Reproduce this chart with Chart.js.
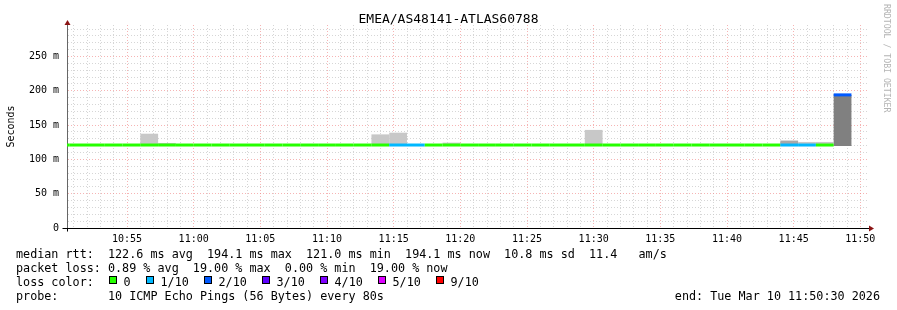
<!DOCTYPE html>
<html lang="en">
<head>
<meta charset="UTF-8" />
<title>EMEA/AS48141-ATLAS60788</title>
<script src="https://cdn.jsdelivr.net/npm/chart.js"></script>
<style>
  body { margin: 0; background: #fff; }
  #wrap { position: relative; width: 897px; height: 310px; font-family: "DejaVu Sans Mono", monospace; color: #000; }
  #plot { position: absolute; left: 0; top: 0; width: 897px; height: 310px; }
  .title { position: absolute; left: 0; top: 11px; width: 897px; text-align: center; font-size: 13px; line-height: 16px; }
  .mark { position: absolute; left: 882px; top: 4px; writing-mode: vertical-rl; font-size: 8.2px; color: #b4b4b4; }
  .foot { position: absolute; left: 16px; font-size: 11.75px; line-height: 14px; white-space: pre; }
  .end { position: absolute; right: 17px; font-size: 11.75px; line-height: 14px; white-space: pre; }
  .box { position: absolute; top: 276px; width: 6px; height: 6px; border: 1px solid #000; }
  .lbl { position: absolute; top: 275px; font-size: 11.75px; line-height: 14px; }
</style>
</head>
<body>
<div id="wrap">
  <div id="plot"><canvas id="chart"></canvas></div>
  <div class="title">EMEA/AS48141-ATLAS60788</div>
  <div class="mark">RRDTOOL / TOBI OETIKER</div>
  <div class="foot" style="top:247px">median rtt:  122.6 ms avg  194.1 ms max  121.0 ms min  194.1 ms now  10.8 ms sd  11.4   am/s</div>
  <div class="foot" style="top:261px">packet loss: 0.89 % avg  19.00 % max  0.00 % min  19.00 % now</div>
  <div class="foot" style="top:275px">loss color:</div>
  <div id="legend"></div>
  <div class="foot" style="top:289px">probe:       10 ICMP Echo Pings (56 Bytes) every 80s</div>
  <div class="end" style="top:289px">end: Tue Mar 10 11:50:30 2026</div>
</div>

<script>
  // 80 s steps, first bin starts 10:49:20 (x in minutes after 10:50:00)
  const stepMin = 80 / 60;
  const firstBinMin = -40 / 60;

  const medianMs = [
    121.0, 121.0, 121.0, 121.0, 121.0, 121.0, 121.0, 121.0, 121.0, 121.0,
    121.0, 121.0, 121.0, 121.0, 121.0, 121.0, 121.0, 121.0, 121.0, 121.0,
    121.0, 121.0, 121.0, 121.0, 121.0, 121.0, 121.0, 121.0, 121.0, 121.0,
    121.0, 121.0, 121.0, 121.0, 121.0, 121.0, 121.0, 121.0, 121.0, 121.0,
    121.0, 121.0, 121.0, 121.0, 194.1
  ];
  const lossCount = [
    0, 0, 0, 0, 0, 0, 0, 0, 0, 0,
    0, 0, 0, 0, 0, 0, 0, 0, 0, 1,
    1, 0, 0, 0, 0, 0, 0, 0, 0, 0,
    0, 0, 0, 0, 0, 0, 0, 0, 0, 0,
    0, 1, 1, 0, 2
  ];
  const pingMinMs = [
    120.4, 120.4, 120.4, 120.4, 120.4, 120.4, 120.4, 120.4, 120.4, 120.4,
    120.4, 120.4, 120.4, 120.4, 120.4, 120.4, 120.4, 120.4, 120.4, 120.4,
    120.4, 120.4, 120.4, 120.4, 120.4, 120.4, 120.4, 120.4, 120.4, 120.4,
    120.4, 120.4, 120.4, 120.4, 120.4, 120.4, 120.4, 120.4, 120.4, 120.4,
    120.4, 120.4, 120.4, 120.4, 119.6
  ];
  // upper edge of the smoke, by shade
  const smokeLight = [
    null, null, null, null, null, 137.5, 124.0, null, null, null,
    null, null, null, null, null, null, null, null, 136.5, 139.0,
    null, null, 124.5, null, null, null, null, null, null, null,
    143.0, null, null, null, null, null, null, null, null, null,
    null, null, 125.5, 125.5, null
  ];
  const smokeMid = [
    null, null, null, null, null, null, null, null, null, null,
    null, null, null, null, null, null, null, null, null, null,
    null, null, null, null, null, null, null, null, null, null,
    null, null, null, null, null, null, null, null, null, null,
    null, 127.5, null, null, null
  ];
  const smokeDark = [
    null, null, null, null, null, null, null, null, null, null,
    null, null, null, null, null, null, null, null, null, null,
    null, null, null, null, null, null, null, null, null, null,
    null, null, null, null, null, null, null, null, null, null,
    null, null, null, null, 194.1
  ];

  const xTickLabels = ['10:55', '11:00', '11:05', '11:10', '11:15', '11:20',
                       '11:25', '11:30', '11:35', '11:40', '11:45', '11:50'];
  const yTickLabels = ['0', '50 m', '100 m', '150 m', '200 m', '250 m'];

  const lossColors = { 0: '#26ff00', 1: '#00b8ff', 2: '#0059ff', 3: '#5e00ff', 4: '#7e00ff', 5: '#dd00ff', 9: '#ff0000' };
  const lossLegend = [[0, '0'], [1, '1/10'], [2, '2/10'], [3, '3/10'], [4, '4/10'], [5, '5/10'], [9, '9/10']];

  const legendLeft = [109, 146, 204, 262, 320, 378, 436];
  const legend = document.getElementById('legend');
  lossLegend.forEach(([n, txt], i) => {
    legend.insertAdjacentHTML('beforeend',
      '<div class="box" style="left:' + legendLeft[i] + 'px;background:' + lossColors[n] + '"></div>' +
      '<div class="lbl" style="left:' + (legendLeft[i] + 14.5) + 'px">' + txt + '</div>');
  });

  const binStart = i => firstBinMin + i * stepMin;
  const smoke = tops => tops.map((t, i) => ({ x: binStart(i) + stepMin / 2, y: t == null ? null : [pingMinMs[i], t] }));

  const medianPts = [];
  medianMs.forEach((v, i) => {
    medianPts.push({ x: binStart(i), y: v }, { x: binStart(i + 1), y: v });
  });

  const minuteTicks = [];
  for (let m = 1; m <= 60; m++) minuteTicks.push(m);
  const msTicks = [];
  for (let v = 0; v <= 290; v += 10) msTicks.push(v);

  const minorGrid = 'rgba(200,200,200,0.75)';
  const majorGrid = 'rgba(240,130,130,0.6)';
  const mono = "'DejaVu Sans Mono', monospace";

  const arrows = {
    id: 'arrows',
    afterDraw(chart) {
      const { ctx, chartArea: a } = chart;
      const x0 = Math.round(a.left) + 0.5, y0 = Math.round(a.bottom) + 0.5;
      ctx.save();
      ctx.strokeStyle = '#000';
      ctx.lineWidth = 1;
      ctx.beginPath();
      ctx.moveTo(x0 - 5, y0); ctx.lineTo(a.right + 3, y0);
      ctx.moveTo(x0, y0); ctx.lineTo(x0, y0 + 3);
      ctx.stroke();
      ctx.fillStyle = '#8b1414';
      ctx.beginPath();
      ctx.moveTo(x0 - 3, a.top); ctx.lineTo(x0 + 3, a.top); ctx.lineTo(x0, a.top - 5);
      ctx.closePath(); ctx.fill();
      ctx.beginPath();
      ctx.moveTo(a.right + 2, y0 - 3); ctx.lineTo(a.right + 2, y0 + 3); ctx.lineTo(a.right + 7, y0);
      ctx.closePath(); ctx.fill();
      ctx.restore();
    }
  };

  // bar ruler follows the 1-minute grid ticks, so widen each bar to one 80 s step
  const barOpts = { type: 'bar', grouped: false, barPercentage: stepMin, categoryPercentage: 1, borderWidth: 0, order: 2 };

  new Chart(document.getElementById('chart'), {
    type: 'bar',
    data: {
      datasets: [
        { ...barOpts, label: 'smoke', data: smoke(smokeLight), backgroundColor: '#c8c8c8' },
        { ...barOpts, label: 'smoke mid', data: smoke(smokeMid), backgroundColor: '#a8a8a8' },
        { ...barOpts, label: 'smoke dark', data: smoke(smokeDark), backgroundColor: '#808080' },
        {
          type: 'line', label: 'median rtt', data: medianPts, order: 0,
          borderWidth: 3, pointRadius: 0, tension: 0, borderCapStyle: 'butt',
          segment: {
            borderColor: c => c.p0.parsed.x === c.p1.parsed.x
              ? 'rgba(0,0,0,0)'
              : lossColors[lossCount[Math.floor(c.p0DataIndex / 2)]]
          }
        }
      ]
    },
    options: {
      responsive: true,
      maintainAspectRatio: false,
      animation: false,
      layout: { padding: { left: 0, right: 30, top: 25, bottom: 0 } },
      plugins: { legend: { display: false }, tooltip: { enabled: false } },
      scales: {
        x: {
          type: 'linear', min: 0.5, max: 60.5, offset: false,
          afterBuildTicks: s => { s.ticks = minuteTicks.map(v => ({ value: v })); },
          afterFit: s => { s.height = 82; },
          grid: {
            offset: false, drawTicks: false,
            color: c => (c.tick && c.tick.value % 5 === 0) ? majorGrid : minorGrid
          },
          border: { color: '#000', dash: [1, 2] },
          ticks: {
            autoSkip: false, maxRotation: 0, padding: 5, color: '#000',
            font: { family: mono, size: 10 },
            callback: v => v % 5 === 0 ? xTickLabels[v / 5 - 1] : ''
          }
        },
        y: {
          min: 0, max: 296,
          afterBuildTicks: s => { s.ticks = msTicks.map(v => ({ value: v })); },
          afterFit: s => { s.width = 67; },
          grid: {
            drawTicks: false,
            color: c => (c.tick && c.tick.value % 50 === 0) ? majorGrid : minorGrid
          },
          border: { color: '#666', dash: [1, 2] },
          ticks: {
            autoSkip: false, padding: 8, color: '#000',
            font: { family: mono, size: 10 },
            callback: v => v % 50 === 0 ? yTickLabels[v / 50] : ''
          },
          title: {
            display: true, text: 'Seconds', color: '#000',
            font: { family: mono, size: 10 },
            padding: { top: 5, bottom: 0 }
          }
        }
      }
    },
    plugins: [arrows]
  });
</script>
</body>
</html>
